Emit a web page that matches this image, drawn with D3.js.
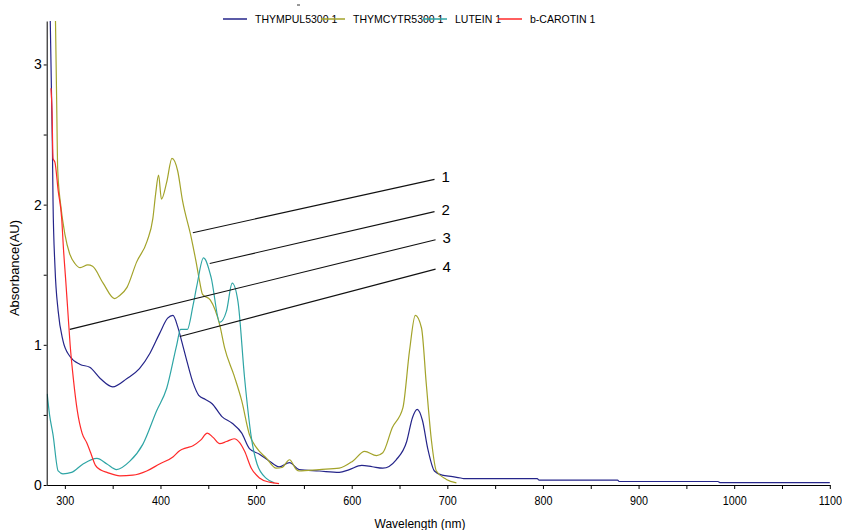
<!DOCTYPE html>
<html>
<head>
<meta charset="utf-8">
<script src="https://cdn.jsdelivr.net/npm/d3@7"></script>
<style>
  body { margin: 0; background: #fff; }
  svg { display: block; font-family: "Liberation Sans", Arial, sans-serif; }
</style>
</head>
<body>
<svg id="chart" width="842" height="530"></svg>
<script>
// spectra: [wavelength nm, absorbance AU]
const thympul = [
  [284.5,3.4],[287,2.4],[287.6,2.03],[289.7,1.55],[293,1.24],[298,1.03],[305,0.92],[316,0.86],
  [326,0.84],[337,0.76],[350,0.70],[365,0.76],[378,0.83],[389,0.94],[399,1.08],[407.5,1.19],
  [413,1.21],[418,1.13],[422,1.03],[427,0.9],[434,0.73],[440,0.64],[447,0.61],[454,0.58],
  [464,0.49],[475,0.44],[485,0.37],[493,0.26],[503.5,0.22],[514,0.17],[524,0.13],[535,0.16],
  [545,0.11],[566,0.10],[587,0.09],[597.5,0.11],[610.5,0.14],[621.5,0.13],[632.5,0.12],
  [646.5,0.18],[657.5,0.31],[663.5,0.48],[668.5,0.54],[674,0.46],[679.5,0.26],[686.5,0.10],
  [694.5,0.07],[705.5,0.06],[714,0.05],[717,0.045],[794,0.045],[796,0.035],[878,0.035],
  [880,0.025],[983,0.025],[985,0.017],[1100,0.017]
];
const thymcytr = [
  [290,3.4],[291.5,2.7],[292.5,2.25],[295.6,2.0],[300,1.79],[305,1.65],[310.5,1.58],[316,1.55],
  [324,1.57],[329,1.56],[340,1.44],[352,1.33],[357,1.35],[365,1.41],[375,1.59],[386,1.74],
  [392,1.9],[395,2.08],[398,2.21],[401,2.04],[406.5,2.16],[412,2.33],[418,2.24],[423,2.03],
  [432,1.77],[437,1.6],[441,1.45],[444,1.36],[452,1.32],[462,1.14],[467,0.98],[477,0.78],
  [485,0.6],[493,0.36],[500,0.27],[511,0.19],[521,0.12],[527,0.125],[535,0.18],[542,0.11],
  [545,0.10],[566,0.11],[587,0.12],[601,0.17],[613.5,0.24],[626,0.21],[632.5,0.23],[642.5,0.41],
  [653.5,0.55],[660.5,0.96],[666.5,1.21],[673,1.12],[678,0.72],[683.5,0.31],[688.5,0.10],
  [699,0.04],[709.5,0.015]
];
const lutein = [
  [281.5,0.65],[284,0.5],[287.6,0.36],[293,0.10],[298,0.08],[307,0.09],[319,0.15],[333.5,0.19],
  [344,0.15],[354,0.11],[368,0.17],[381.5,0.29],[396,0.53],[406.5,0.69],[417,1.0],[421,1.11],
  [428,1.11],[434,1.28],[438,1.42],[445,1.62],[453,1.48],[462,1.16],[469,1.24],[475,1.44],
  [481,1.31],[488,0.76],[495,0.34],[501,0.15],[511,0.045],[519,0.015]
];
const bcarotin = [
  [285.5,2.83],[286.6,2.66],[287.6,2.33],[289.7,2.3],[293,2.1],[296.7,1.9],[298.4,1.7],
  [301,1.45],[303,1.25],[305.5,1.0],[309,0.75],[313,0.53],[318,0.37],[323,0.3],[327,0.23],
  [332,0.14],[338,0.105],[344,0.09],[357.5,0.065],[371,0.07],[385.6,0.10],[399,0.15],
  [413,0.2],[420,0.245],[427,0.265],[434,0.28],[442,0.32],[449,0.37],[455,0.34],[462,0.295],
  [469,0.31],[477,0.33],[483,0.3],[488,0.24],[495,0.12],[503.5,0.05],[514,0.02],[524,0.01]
];

const seriesNames = ["THYMPUL5300 1", "THYMCYTR5300 1", "LUTEIN 1", "b-CAROTIN 1"];
const seriesColors = ["#25258a", "#a3a32a", "#2ea5a5", "#ff2a2a"];

const xTicks = d3.range(300, 1101, 50);
const yTicks = [0, 0.5, 1, 1.5, 2, 2.5, 3];

// numbered leader lines: start point on a curve, end point near the label
const leaderFrom = [[433.8,1.80],[451.5,1.58],[305.2,1.11],[420.2,1.06]];
const leaderTo = [[686.6,2.18],[686.6,1.95],[687.7,1.75],[687.7,1.54]];
const leaderLabels = ["1", "2", "3", "4"];

const svg = d3.select("#chart");
const x = d3.scaleLinear().domain([281, 1100]).range([46.7, 829.8]);
const y = d3.scaleLinear().domain([0, 3.31]).range([485, 21]);

svg.append("clipPath").attr("id", "plot")
  .append("rect")
  .attr("x", x.range()[0]).attr("y", y.range()[1])
  .attr("width", 842 - x.range()[0]).attr("height", y.range()[0] - y.range()[1]);

const line = d3.line()
  .x(d => x(d[0]))
  .y(d => y(d[1]))
  .curve(d3.curveMonotoneX);

svg.append("g").attr("clip-path", "url(#plot)")
  .selectAll("path")
  .data([thympul, thymcytr, lutein, bcarotin])
  .enter()
  .append("path")
  .attr("d", line)
  .attr("fill", "none")
  .attr("stroke", (d, i) => seriesColors[i])
  .attr("stroke-width", 1.2);

// leaders
svg.append("g").selectAll("line")
  .data(leaderFrom)
  .enter()
  .append("line")
  .attr("x1", d => x(d[0]))
  .attr("y1", d => y(d[1]))
  .attr("x2", (d, i) => x(leaderTo[i][0]))
  .attr("y2", (d, i) => y(leaderTo[i][1]))
  .attr("stroke", "#111")
  .attr("stroke-width", 1.1);

svg.append("g").selectAll("text")
  .data(leaderTo)
  .enter()
  .append("text")
  .attr("x", d => x(d[0]) + 7)
  .attr("y", d => y(d[1]) + 3)
  .attr("font-size", 15)
  .text((d, i) => leaderLabels[i]);

// axes
const xAxis = svg.append("g")
  .attr("transform", `translate(0,${y.range()[0]})`)
  .call(d3.axisBottom(x).tickValues(xTicks).tickSize(4).tickSizeOuter(0)
    .tickFormat(d => d % 100 === 0 ? d : ""));
// the original tick font is narrow; squeeze horizontally so 1100 fits
xAxis.selectAll("text")
  .attr("font-size", 13.5)
  .attr("fill", "#000")
  .attr("dy", "1em")
  .attr("transform", "scale(0.8,1)");

const yAxis = svg.append("g")
  .attr("transform", `translate(${x.range()[0]},0)`)
  .call(d3.axisLeft(y).tickValues(yTicks).tickSize(3).tickSizeOuter(0).tickPadding(2)
    .tickFormat(d => Number.isInteger(d) ? d : ""));
yAxis.selectAll("text").attr("font-size", 14).attr("fill", "#000");

svg.selectAll(".domain, .tick line").attr("stroke", "#000");

svg.append("text")
  .attr("x", 420).attr("y", 528)
  .attr("text-anchor", "middle")
  .attr("font-size", 12)
  .text("Wavelength (nm)");

svg.append("text")
  .attr("transform", "translate(19,268) rotate(-90)")
  .attr("text-anchor", "middle")
  .attr("font-size", 13)
  .text("Absorbance(AU)");

// legend
const legendX = [255, 353, 455, 530];
const legend = svg.append("g").selectAll("g")
  .data(seriesNames)
  .enter()
  .append("g")
  .attr("transform", (d, i) => `translate(${legendX[i]},19)`);
legend.append("line")
  .attr("x1", -32).attr("x2", -8)
  .attr("stroke", (d, i) => seriesColors[i])
  .attr("stroke-width", 1.5);
legend.append("text")
  .attr("y", 4)
  .attr("font-size", 10.5)
  .attr("fill", "#000")
  .text(d => d);

svg.append("line")
  .attr("x1", 297).attr("x2", 300).attr("y1", 5).attr("y2", 5)
  .attr("stroke", "#333");
</script>
</body>
</html>
